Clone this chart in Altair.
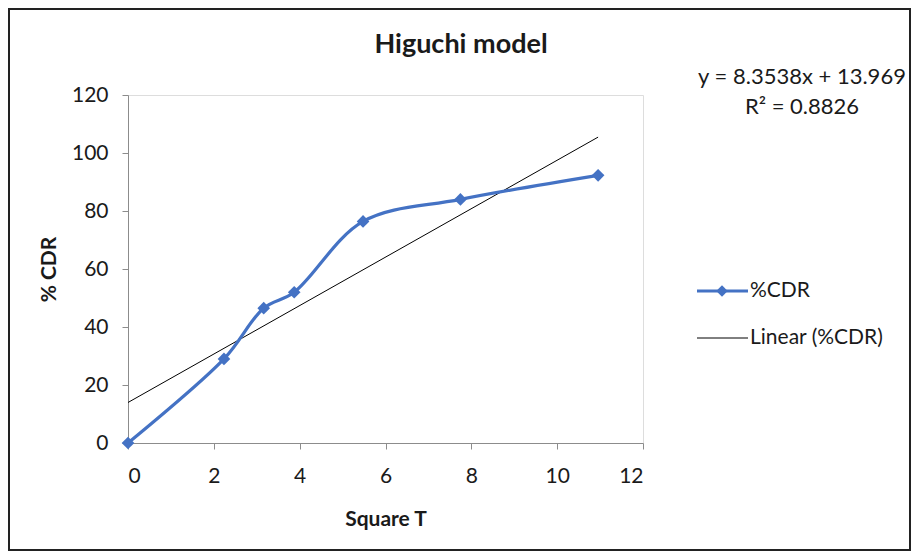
import altair as alt
import pandas as pd

# data
sqrt_t = [0, 2.236, 3.162, 3.873, 5.477, 7.746, 10.954]
cdr = [0, 29.0, 46.5, 52.0, 76.4, 84.0, 92.3]
slope, intercept = 8.3538, 13.969
x_ticks = [0, 2, 4, 6, 8, 10, 12]
y_ticks = [0, 20, 40, 60, 80, 100, 120]

FONT = "Lato"
BLUE = "#4472C4"
TXT = "#1a1a1a"

df = pd.DataFrame({"x": sqrt_t, "y": cdr})
trend = pd.DataFrame({"x": [sqrt_t[0], sqrt_t[-1]]})
trend["y"] = slope * trend["x"] + intercept
one = pd.DataFrame({"a": [0]})

xs = alt.Scale(domain=[0, 12], nice=False)
ys = alt.Scale(domain=[0, 120], nice=False)

xax = alt.Axis(values=x_ticks, title="Square T", grid=False, labelFontSize=21,
               titleFontSize=21, titleFontWeight="bold", labelPadding=16,
               titlePadding=22, tickSize=6, domainColor="#8c8c8c", tickColor="#8c8c8c",
               labelColor=TXT, titleColor=TXT, labelFont=FONT, titleFont=FONT)
yax = alt.Axis(values=y_ticks, title="% CDR", grid=False, labelFontSize=21,
               titleFontSize=21, titleFontWeight="bold", labelPadding=14,
               titlePadding=12, tickSize=6, domainColor="#8c8c8c", tickColor="#8c8c8c",
               labelColor=TXT, titleColor=TXT, labelFont=FONT, titleFont=FONT)

trend_line = alt.Chart(trend).mark_line(color="black", strokeWidth=1).encode(
    x=alt.X("x:Q", scale=xs, axis=xax), y=alt.Y("y:Q", scale=ys, axis=yax))

cdr_line = alt.Chart(df).mark_line(color=BLUE, strokeWidth=3.2, interpolate="catmull-rom").encode(
    x=alt.X("x:Q", scale=xs), y=alt.Y("y:Q", scale=ys))

cdr_pts = alt.Chart(df).mark_point(shape="diamond", filled=True, color=BLUE, size=160, opacity=1).encode(
    x=alt.X("x:Q", scale=xs), y=alt.Y("y:Q", scale=ys))

frame = alt.Chart(one).mark_rect(filled=False, stroke="#222222", strokeWidth=2).encode(
    x=alt.value(-119), x2=alt.value(782), y=alt.value(-86), y2=alt.value(455))

title = alt.Chart(one).mark_text(text="Higuchi model", font=FONT, fontSize=27, fontWeight="bold",
                                 color=TXT, align="center", baseline="middle").encode(
    x=alt.value(333), y=alt.value(-50))

eq1 = alt.Chart(one).mark_text(text=f"y = {slope}x + {intercept}", font=FONT, fontSize=22,
                               color=TXT, align="center", baseline="middle").encode(
    x=alt.value(674), y=alt.value(-18))
eq2 = alt.Chart(one).mark_text(text="R² = 0.8826", font=FONT, fontSize=22,
                               color=TXT, align="center", baseline="middle").encode(
    x=alt.value(674), y=alt.value(12))

leg1_line = alt.Chart(one).mark_rule(color=BLUE, strokeWidth=3.2).encode(
    x=alt.value(569), x2=alt.value(620), y=alt.value(196))
leg1_pt = alt.Chart(one).mark_point(shape="diamond", filled=True, color=BLUE, size=130, opacity=1).encode(
    x=alt.value(594), y=alt.value(196))
leg1_txt = alt.Chart(one).mark_text(text="%CDR", font=FONT, fontSize=21, color=TXT,
                                    align="left", baseline="middle").encode(
    x=alt.value(622), y=alt.value(196))
leg2_line = alt.Chart(one).mark_rule(color="black", strokeWidth=1).encode(
    x=alt.value(569), x2=alt.value(620), y=alt.value(243))
leg2_txt = alt.Chart(one).mark_text(text="Linear (%CDR)", font=FONT, fontSize=21, color=TXT,
                                    align="left", baseline="middle").encode(
    x=alt.value(622), y=alt.value(243))

chart = alt.layer(
    frame, trend_line, cdr_line, cdr_pts, title, eq1, eq2,
    leg1_line, leg1_pt, leg1_txt, leg2_line, leg2_txt
).properties(
    width=515, height=348,
    autosize=alt.AutoSizeParams(type="none"),
    padding={"left": 120, "top": 87, "right": 268, "bottom": 108},
).configure_view(stroke=None).configure(background="white")

chart.save("out.html", embed_options={"renderer": "svg", "actions": False})
